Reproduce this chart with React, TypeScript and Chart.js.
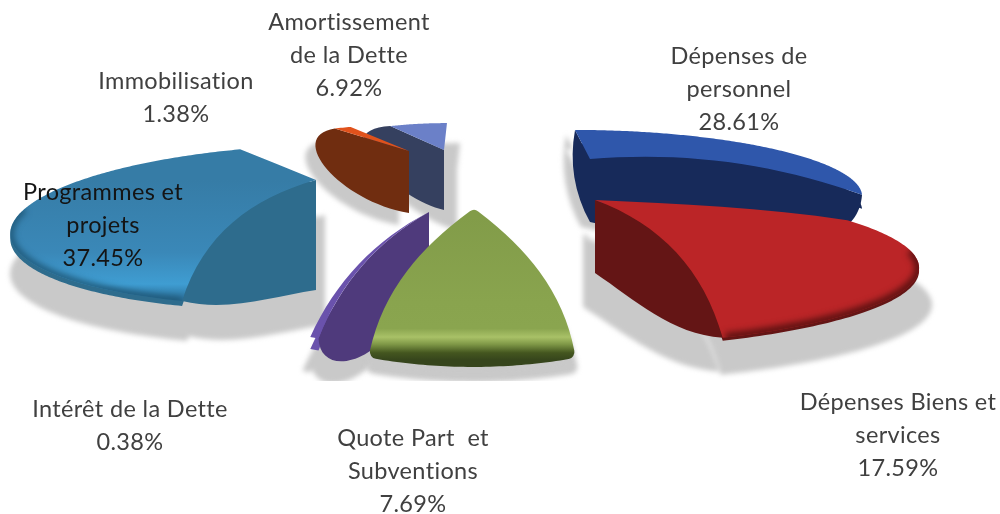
import React, { useEffect, useRef } from "react";
import { Chart, registerables } from "chart.js";

Chart.register(...registerables);

const categories = [
  "Dépenses de personnel",
  "Dépenses Biens et services",
  "Quote Part et Subventions",
  "Intérêt de la Dette",
  "Programmes et projets",
  "Immobilisation",
  "Amortissement de la Dette",
];
const shares = [28.61, 17.59, 7.69, 0.38, 37.45, 1.38, 6.92];
const faceColors = ["#2f57ab", "#bb2527", "#86a04b", "#6a52ac", "#3a84b2", "#e0521c", "#6b80c8"];
const wallColors = ["#172a5a", "#641515", "#36451c", "#4f3a7c", "#2e6c8d", "#702d10", "#35405f"];
const labelLines = [
  ["Dépenses de", "personnel", "28.61%"],
  ["Dépenses Biens et", "services", "17.59%"],
  ["Quote Part  et", "Subventions", "7.69%"],
  ["Intérêt de la Dette", "0.38%"],
  ["Programmes et", "projets", "37.45%"],
  ["Immobilisation", "1.38%"],
  ["Amortissement", "de la Dette", "6.92%"],
];

// layout / style tables (not data)
const labelAnchors = [
  [239, -201], [398, 145], [-87, 181], [-370, 152], [-397, -65], [-324, -176], [-151, -235],
];
const camera = { dx: -30, horizon: -427, G: 1000, F: 818 };
type Shape = {
  plane: number[]; // au, ad, r, rx
  explode: number[];
  h: number;
  wallSide: number; // 0 start, 1 end, -1 none
  lip: number;
  lipFace?: boolean;
  edge0: number[];
  edge1: number[];
  floor: number[]; // k1, k2, optional t1, t2
  back?: number;
  warp?: number[];
  round?: number;
  shadow: number[]; // dx, dy, scaleX
  stops?: [number, string][];
  dark?: string;
  darkW?: number;
};
const shapes: Shape[] = [
  { plane: [0.428, 2.85, 0.484, 0.909], explode: [90, -98], h: 63, wallSide: 1, lip: 14, edge0: [0, 0], edge1: [-20, -20], floor: [30, 80, 0.33, 0.95], back: 11, shadow: [-9, 5, 1] },
  { plane: [0.145, 2.38, 0.45, 1.135], warp: [66, 1.42], explode: [95, -57], h: 73, wallSide: 1, lip: 3, edge0: [-3, -6], edge1: [-32, -32], floor: [6, 20], shadow: [-12, 34, 1.077], dark: "#5f1212", darkW: 9 },
  { plane: [0.007, 2.877, 0.99, 0.933], explode: [-26, -40], h: 0, wallSide: -1, lip: 0, edge0: [-18, -24], edge1: [18, 24], floor: [0, 0], round: 14, shadow: [0, 15, 1.03],
    stops: [[0, "#829c49"], [0.6, "#89a44e"], [0.78, "#8aa54f"], [0.84, "#a9c167"], [0.89, "#7f9847"], [0.95, "#44561f"], [1, "#36451c"]] },
  { plane: [-0.147, 2.84, 0.9, 0.9], explode: [-71, -45], h: 38, wallSide: 0, lip: 12, lipFace: true, edge0: [20, 20], edge1: [20, 20], floor: [-72, -39, 0.6, 1.2], shadow: [-8, 22, 1] },
  { plane: [-0.498, 2.641, 0.537, 0.939], warp: [195.4, 1.043], explode: [-184, -77], h: 110, wallSide: 0, lip: 5, edge0: [30, 35], edge1: [0, 0], floor: [-3, -15], shadow: [9, 35, 1.03],
    stops: [[0, "#367ca6"], [0.6, "#3a88b8"], [0.86, "#3f9dd2"], [1, "#2a6d96"]], dark: "#1f5878", darkW: 7 },
  { plane: [-0.148, 2.96, 0.45, 0.815], explode: [-91, -106], h: 62, wallSide: 0, lip: 0, edge0: [0, 0], edge1: [0, 0], floor: [-44, -43, 0.48, 1.24], shadow: [-10, 12, 1] },
  { plane: [-0.096, 3.04, 0.372, 0.554], explode: [-56, -107], h: 60, wallSide: 0, lip: 0, edge0: [0, 0], edge1: [0, 0], floor: [-32, -61, 0.32, 1.34], shadow: [13, 20, 1] },
];
const drawOrder = [0, 6, 5, 4, 1, 3, 2];
const shadowFloor = 381;

type P = { x: number; y: number };

const pie3d = {
  id: "pie3d",
  beforeDatasetDraw(chart: any) {
    const ctx: CanvasRenderingContext2D = chart.ctx;
    const arcs = chart.getDatasetMeta(0).data;
    const cx = arcs[0].x;
    const cy = arcs[0].y;
    const xv = cx + camera.dx;
    const yh = cy + camera.horizon;
    const phiOf = (i: number, th: number) => {
      const s = shapes[i];
      const th0 = arcs[i].startAngle + Math.PI / 2;
      return s.warp ? (s.warp[0] * Math.PI) / 180 + (th - th0) * s.warp[1] : th;
    };
    const rim = (i: number, th: number): P => {
      const [au, ad, r, rx] = shapes[i].plane;
      const phi = phiOf(i, th);
      const d = ad + r * Math.cos(phi);
      return { x: xv + (camera.F * (au + rx * Math.sin(phi))) / d, y: yh + camera.G / d };
    };
    const ctrl = (a: P, b: P, k: number[]): [P, P] => {
      const dx = b.x - a.x;
      const dy = b.y - a.y;
      const l = Math.hypot(dx, dy) || 1;
      const nx = -dy / l;
      const ny = dx / l;
      const t1 = k[2] ?? 1 / 3;
      const t2 = k[3] ?? 2 / 3;
      return [
        { x: a.x + dx * t1 + nx * k[0], y: a.y + dy * t1 + ny * k[0] },
        { x: a.x + dx * t2 + nx * k[1], y: a.y + dy * t2 + ny * k[1] },
      ];
    };
    const facePath = (i: number, oy = 0) => {
      const s = shapes[i];
      const th0 = arcs[i].startAngle + Math.PI / 2;
      const th1 = arcs[i].endAngle + Math.PI / 2;
      const A = { x: cx + s.explode[0], y: cy + s.explode[1] };
      const R0 = rim(i, th0);
      const R1 = rim(i, th1);
      const [c1, c2] = ctrl(A, R0, s.edge0);
      const [c3, c4] = ctrl(A, R1, s.edge1);
      ctx.moveTo(A.x, A.y + oy);
      ctx.bezierCurveTo(c1.x, c1.y + oy, c2.x, c2.y + oy, R0.x, R0.y + oy);
      const n = Math.max(2, Math.ceil((th1 - th0) * 90));
      for (let k = 1; k <= n; k++) {
        const p = rim(i, th0 + ((th1 - th0) * k) / n);
        ctx.lineTo(p.x, p.y + oy);
      }
      ctx.bezierCurveTo(c4.x, c4.y + oy, c3.x, c3.y + oy, A.x, A.y + oy);
      ctx.closePath();
    };
    const wallPath = (i: number) => {
      const s = shapes[i];
      if (s.wallSide < 0) return;
      const th0 = arcs[i].startAngle + Math.PI / 2;
      const th1 = arcs[i].endAngle + Math.PI / 2;
      const A = { x: cx + s.explode[0], y: cy + s.explode[1] };
      const B = { x: A.x, y: A.y + s.h };
      const R = rim(i, s.wallSide === 0 ? th0 : th1);
      const [t1, t2] = ctrl(A, R, s.wallSide === 0 ? s.edge0 : s.edge1);
      const [f1, f2] = ctrl(B, R, s.floor);
      ctx.moveTo(A.x, A.y);
      ctx.lineTo(B.x, B.y);
      ctx.bezierCurveTo(f1.x, f1.y, f2.x, f2.y, R.x, R.y);
      ctx.bezierCurveTo(t2.x, t2.y, t1.x, t1.y, A.x, A.y);
      ctx.closePath();
      if (s.back) {
        const Rb = rim(i, s.wallSide === 0 ? th1 : th0);
        const [b1, b2] = ctrl(Rb, B, [s.back, s.back]);
        ctx.moveTo(Rb.x, Rb.y);
        ctx.bezierCurveTo(b1.x, b1.y, b2.x, b2.y, B.x, B.y);
        ctx.lineTo(A.x, A.y);
        ctx.closePath();
      }
    };

    // soft floor shadows
    ctx.save();
    ctx.beginPath();
    ctx.rect(0, 0, chart.width, shadowFloor);
    ctx.clip();
    ctx.filter = "blur(2.5px)";
    ctx.fillStyle = "#c9c9c9";
    ctx.strokeStyle = "#c9c9c9";
    ctx.lineJoin = "round";
    drawOrder.forEach((i) => {
      const s = shapes[i];
      const ax = cx + s.explode[0];
      ctx.save();
      ctx.translate(ax + s.shadow[0], s.shadow[1]);
      ctx.scale(s.shadow[2], 1);
      ctx.translate(-ax, 0);
      ctx.beginPath();
      wallPath(i);
      facePath(i, s.lip);
      ctx.fill();
      if (s.round) {
        ctx.lineWidth = s.round;
        ctx.stroke();
      }
      ctx.restore();
    });
    ctx.restore();

    drawOrder.forEach((i) => {
      const s = shapes[i];
      const A = { y: cy + s.explode[1] };
      // lip, wall
      if (s.lip) {
        ctx.fillStyle = s.lipFace ? faceColors[i] : wallColors[i];
        ctx.beginPath();
        facePath(i, s.lip);
        ctx.fill();
      }
      ctx.fillStyle = wallColors[i];
      ctx.beginPath();
      wallPath(i);
      ctx.fill();
      // face
      const th0 = arcs[i].startAngle + Math.PI / 2;
      const th1 = arcs[i].endAngle + Math.PI / 2;
      let fill: any = arcs[i].options.backgroundColor;
      if (s.stops) {
        let low = A.y;
        for (let t = th0; t <= th1; t += 0.02) low = Math.max(low, rim(i, t).y);
        const g = ctx.createLinearGradient(0, A.y, 0, low);
        s.stops.forEach(([o, c]) => g.addColorStop(o, c));
        fill = g;
      }
      ctx.fillStyle = fill;
      ctx.beginPath();
      facePath(i);
      ctx.fill();
      if (s.round) {
        ctx.strokeStyle = fill;
        ctx.lineWidth = s.round;
        ctx.lineJoin = "round";
        ctx.stroke();
      }
      if (s.dark) {
        ctx.save();
        ctx.beginPath();
        facePath(i);
        ctx.clip();
        ctx.filter = "blur(3px)";
        ctx.strokeStyle = s.dark;
        ctx.lineWidth = s.darkW || 8;
        ctx.beginPath();
        let started = false;
        for (let t = th0; t <= th1; t += 0.02) {
          if (Math.cos(phiOf(i, t)) > 0) continue;
          const p = rim(i, t);
          if (!started) ctx.moveTo(p.x, p.y);
          else ctx.lineTo(p.x, p.y);
          started = true;
        }
        ctx.stroke();
        ctx.restore();
      }
    });
    return false;
  },
  afterDraw(chart: any) {
    const ctx: CanvasRenderingContext2D = chart.ctx;
    const arcs = chart.getDatasetMeta(0).data;
    ctx.save();
    ctx.font = '23.5px Lato, "Open Sans", sans-serif';
    (ctx as any).letterSpacing = "0.35px";
    ctx.textAlign = "center";
    ctx.textBaseline = "middle";
    labelLines.forEach((lines, i) => {
      ctx.fillStyle = i === 4 ? "#141414" : "#404040";
      lines.forEach((t, k) => {
        ctx.fillText(t, arcs[0].x + labelAnchors[i][0], arcs[0].y + labelAnchors[i][1] + k * 33);
      });
    });
    ctx.restore();
  },
};

export default function App() {
  const ref = useRef<HTMLCanvasElement>(null);
  useEffect(() => {
    document.body.style.margin = "0";
    const chart = new Chart(ref.current as HTMLCanvasElement, {
      type: "pie",
      data: {
        labels: categories,
        datasets: [{ data: shares, backgroundColor: faceColors, borderWidth: 0 }],
      },
      options: {
        responsive: false,
        animation: false,
        layout: { padding: 0 },
        plugins: { legend: { display: false }, tooltip: { enabled: false } },
      },
      plugins: [pie3d as any],
    });
    return () => chart.destroy();
  }, []);
  return <canvas ref={ref} width={1000} height={514} style={{ display: "block" }} />;
}
